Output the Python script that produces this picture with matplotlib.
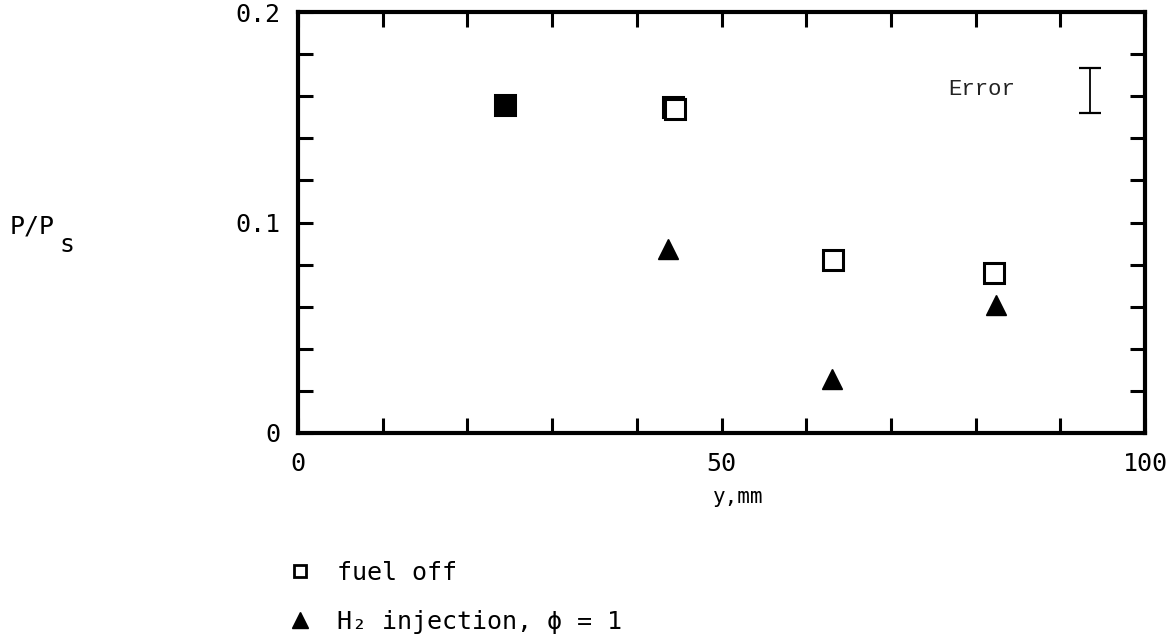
import numpy as np
import matplotlib
matplotlib.use("Agg")
import matplotlib.pyplot as plt

# data
fuel_off_x = [24.4, 44.3, 44.5, 63.2, 82.2]
fuel_off_y = [0.156, 0.1549, 0.1539, 0.0822, 0.076]
h2_x = [24.4, 43.7, 63.0, 82.4]
h2_y = [0.156, 0.0874, 0.0257, 0.0606]

err_x = [93.5]
err_y = [0.1627]
err_half = [0.0107]

x_ticks = list(range(0, 101, 10))
x_ticklabels = ['0', '', '', '', '', '50', '', '', '', '', '100']
y_ticks = [round(0.02 * i, 2) for i in range(11)]
y_ticklabels = ['0', '', '', '', '', '0.1', '', '', '', '', '0.2']

W, H = 1168, 635
mono = ['DejaVu Sans Mono', 'DejaVu Sans']


def fx(px):
    return px / W


def fy(py):
    return 1 - py / H


fig = plt.figure(figsize=(W / 100, H / 100), dpi=100)
ax = fig.add_axes([fx(298), fy(433), fx(1145) - fx(298), fy(12) - fy(433)])

# points measured in both runs coincide -> drawn as a solid square
both = [(x, y) for x, y in zip(h2_x, h2_y) if (x, y) in zip(fuel_off_x, fuel_off_y)]

sq, = ax.plot(fuel_off_x, fuel_off_y, 's', ms=14, mfc='white', mec='black', mew=2.2,
              ls='none', label='fuel off')
tri, = ax.plot(h2_x, h2_y, '^', ms=15, color='black', ls='none',
               label='H\u2082 injection, \u03d5 = 1')
if both:
    bx, by = zip(*both)
    ax.plot(bx, by, 's', ms=15, color='black', ls='none')

ax.errorbar(err_x, err_y, yerr=err_half, fmt='none', ecolor='black',
            elinewidth=1.3, capsize=8, capthick=1.6)
ax.text(93.5 - 12.8, 0.1627 + 0.0005, 'Error', ha='center', va='center',
        fontsize=16, family=['Liberation Mono', 'DejaVu Sans Mono'], color='#222222')

ax.set_xlim(0, 100)
ax.set_ylim(0, 0.2)
ax.set_xticks(x_ticks)
ax.set_xticklabels(x_ticklabels)
ax.set_yticks(y_ticks)
ax.set_yticklabels(y_ticklabels)
for lab in ax.get_xticklabels() + ax.get_yticklabels():
    lab.set_family(mono)
    lab.set_fontsize(18)

ax.tick_params(direction='in', top=True, right=True, length=11, width=2.2,
               color='black')
ax.tick_params(axis='x', pad=14)
ax.tick_params(axis='y', pad=13)
for s in ax.spines.values():
    s.set_linewidth(3)

fig.text(fx(10), fy(227), 'P/P', fontsize=18, family=mono, ha='left', va='center')
fig.text(fx(59), fy(245), 's', fontsize=18, family=mono, ha='left', va='center')
fig.text(fx(738), fy(497), 'y,mm', fontsize=15, family=mono, ha='center', va='center')

leg = fig.legend(handles=[sq, tri], loc='upper left',
                 bbox_to_anchor=(fx(287), fy(561)), frameon=False,
                 prop={'family': mono, 'size': 18}, markerscale=0.8,
                 handlelength=1.0, handletextpad=1.0, labelspacing=1.0,
                 borderaxespad=0, borderpad=0)
leg.legend_handles[0].set_markersize(9)
leg.legend_handles[0].set_markeredgewidth(2.0)

fig.savefig('out.png', dpi=100)
